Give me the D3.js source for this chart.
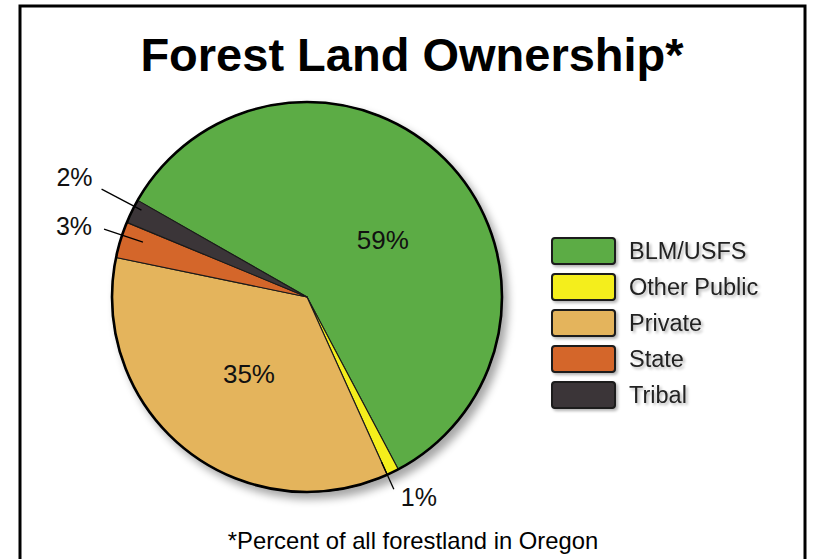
<!DOCTYPE html>
<html><head><meta charset="utf-8">
<script src="https://cdn.jsdelivr.net/npm/d3@7"></script>
<style>html,body{margin:0;padding:0;background:#fff;}svg{display:block;}</style>
</head><body>
<script>
const categories = ["BLM/USFS", "Other Public", "Private", "State", "Tribal"];
const values = [59, 1, 35, 3, 2];
const labels = ["59%", "1%", "35%", "3%", "2%"];
const colors = ["#5cac45", "#f4ee1c", "#e4b45c", "#d4662a", "#3b3637"];
const title = "Forest Land Ownership*";
const footnote = "*Percent of all forestland in Oregon";

const W = 814, H = 559;
const svg = d3.select("body").append("svg").attr("width", W).attr("height", H);
const defs = svg.append("defs");
const sh = defs.append("filter").attr("id", "shadow").attr("x", "-20%").attr("y", "-20%").attr("width", "140%").attr("height", "140%");
sh.append("feGaussianBlur").attr("in", "SourceAlpha").attr("stdDeviation", 4).attr("result", "b");
sh.append("feOffset").attr("in", "b").attr("dx", 5).attr("dy", 6).attr("result", "o");
sh.append("feComponentTransfer").attr("in", "o").attr("result", "o2").append("feFuncA").attr("type", "linear").attr("slope", 0.35);
const m = sh.append("feMerge"); m.append("feMergeNode").attr("in", "o2"); m.append("feMergeNode").attr("in", "SourceGraphic");
const tsh = defs.append("filter").attr("id", "tshadow").attr("x", "-10%").attr("y", "-30%").attr("width", "120%").attr("height", "160%");
tsh.append("feGaussianBlur").attr("in", "SourceAlpha").attr("stdDeviation", 1.5).attr("result", "b");
tsh.append("feOffset").attr("in", "b").attr("dx", 2).attr("dy", 2).attr("result", "o");
tsh.append("feComponentTransfer").attr("in", "o").attr("result", "o2").append("feFuncA").attr("type", "linear").attr("slope", 0.3);
const m2 = tsh.append("feMerge"); m2.append("feMergeNode").attr("in", "o2"); m2.append("feMergeNode").attr("in", "SourceGraphic");

// frame
svg.append("rect").attr("x", 20).attr("y", 6).attr("width", 785).attr("height", 600)
  .attr("fill", "#fff").attr("stroke", "#000").attr("stroke-width", 3);

svg.append("text").attr("x", 412).attr("y", 71).attr("text-anchor", "middle")
  .attr("font-family", "Liberation Sans, Arial, sans-serif").attr("font-weight", "bold")
  .attr("font-size", 47).attr("fill", "#000").text(title);

svg.append("text").attr("x", 413).attr("y", 549).attr("text-anchor", "middle")
  .attr("font-family", "Liberation Sans, Arial, sans-serif")
  .attr("font-size", 23.8).attr("fill", "#000").text(footnote);

const cx = 307, cy = 297, R = 195;
const a0 = -60.3 * Math.PI / 180;
const pie = d3.pie().sort(null).value(d => d).startAngle(a0).endAngle(a0 + 2 * Math.PI);
const arcs = pie(values);
const arc = d3.arc().innerRadius(0).outerRadius(R);
const g = svg.append("g").attr("transform", `translate(${cx},${cy})`);
const pg = g.append("g").attr("filter", "url(#shadow)");
pg.selectAll("path").data(arcs).join("path")
  .attr("d", arc).attr("fill", (d, i) => colors[i])
  .attr("stroke", "#1a1a1a").attr("stroke-width", 1.1).attr("stroke-linejoin", "round");
pg.append("circle").attr("r", R).attr("fill", "none").attr("stroke", "#000").attr("stroke-width", 2.6);

const mid = d => (d.startAngle + d.endAngle) / 2;
const pt = (a, r) => [r * Math.sin(a), -r * Math.cos(a)];
const font = "Liberation Sans, Arial, sans-serif";

// inside labels for big slices (angle shift in degrees, radius)
const inside = {0: {da: 7, r: 95}, 2: {da: -1.5, r: 96}};
arcs.forEach((d, i) => {
  const L = inside[i];
  if (!L) return;
  const [x, y] = pt(mid(d) + L.da * Math.PI / 180, L.r);
  g.append("text").attr("x", x).attr("y", y).attr("dy", "0.36em")
    .attr("text-anchor", "middle").attr("font-family", font).attr("font-size", 26)
    .attr("fill", "#111").text(labels[i]);
});

// leader labels for small slices
const leader = {1: {r0: 181, r1: 211, da: 1.8}, 3: {r0: 173, r1: 214, da: 1.4}, 4: {r0: 187, r1: 232, da: 1.6}};
arcs.forEach((d, i) => {
  const L = leader[i];
  if (!L) return;
  const a = mid(d) + L.da * Math.PI / 180;
  const p0 = pt(a, L.r0), p1 = pt(a, L.r1);
  g.append("line").attr("x1", p0[0]).attr("y1", p0[1]).attr("x2", p1[0]).attr("y2", p1[1])
    .attr("stroke", "#000").attr("stroke-width", 1.3);
  const t = g.append("text").attr("font-family", font).attr("font-size", 25).attr("fill", "#111").text(labels[i]);
  if (i === 1) t.attr("x", p1[0] + 7).attr("y", p1[1] + 17).attr("text-anchor", "start");
  else if (i === 3) t.attr("x", p1[0] - 12).attr("y", p1[1] + 6).attr("text-anchor", "end");
  else t.attr("x", p1[0] - 9).attr("y", p1[1] - 3).attr("text-anchor", "end");
});

// legend
const lg = svg.append("g").attr("transform", "translate(552,238)");
const rowH = 36;
const rows = lg.selectAll("g").data(categories).join("g").attr("transform", (d, i) => `translate(0,${i * rowH})`);
rows.append("rect").attr("width", 63).attr("height", 26).attr("rx", 3)
  .attr("fill", (d, i) => colors[i]).attr("stroke", "#1a1a1a").attr("stroke-width", 2)
  .attr("filter", "url(#tshadow)");
rows.append("text").attr("x", 77).attr("y", 13).attr("dy", "0.36em")
  .attr("font-family", font).attr("font-size", 23.5).attr("fill", "#222")
  .attr("filter", "url(#tshadow)").text(d => d);
</script>
</body></html>
